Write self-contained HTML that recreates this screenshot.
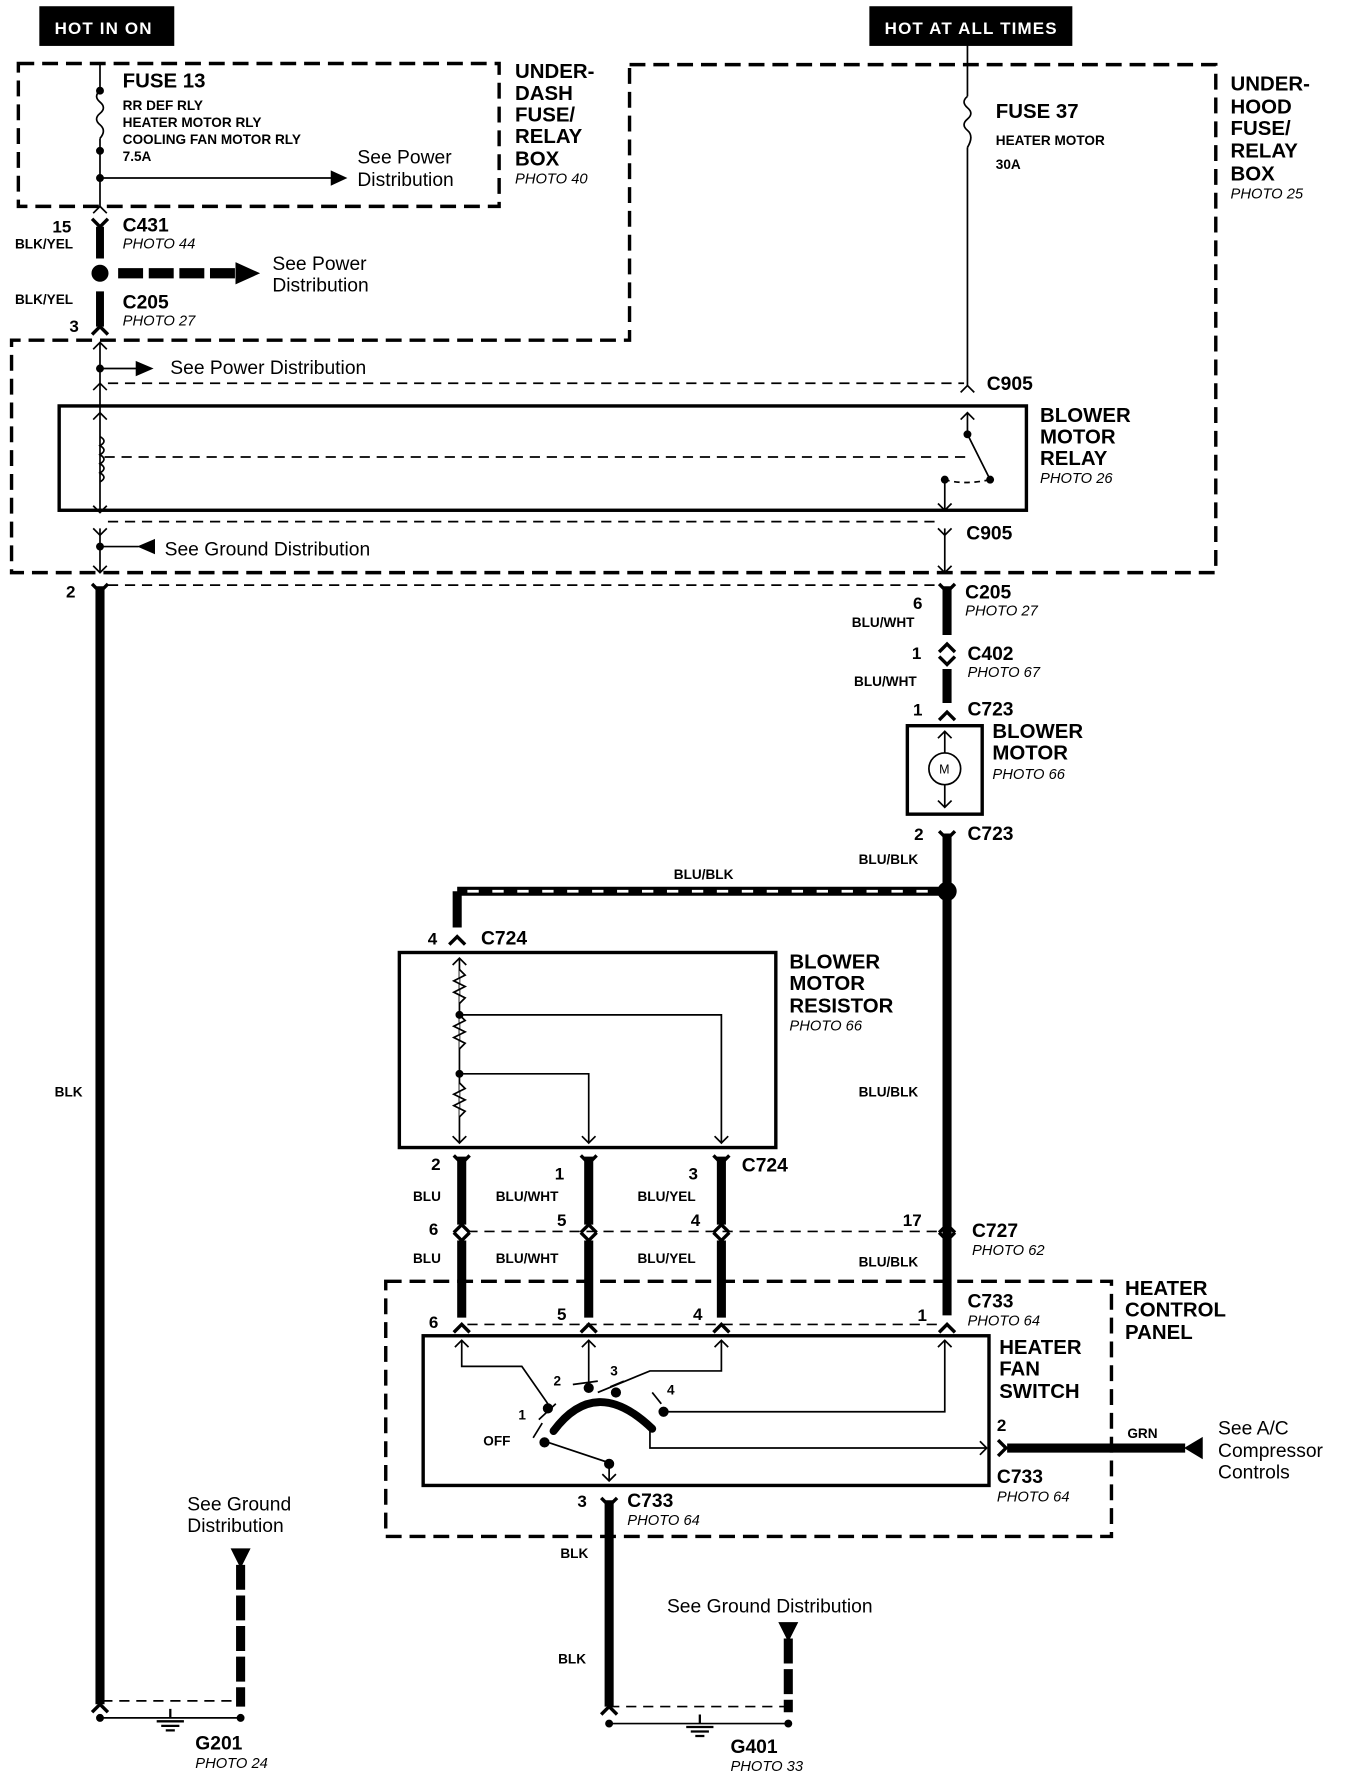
<!DOCTYPE html>
<html><head><meta charset="utf-8"><style>
html,body{margin:0;padding:0;background:#fff}
svg{display:block}
text{font-family:"Liberation Sans",Arial,sans-serif;fill:#000}
.b{font-weight:bold}
.i{font-style:italic;font-size:13px}
</style></head><body>
<svg width="1360" height="1778" viewBox="0 0 1199 1568" xmlns="http://www.w3.org/2000/svg">
<defs>
<path id="up" d="M-7,-7 L0,0 L7,-7" fill="none" stroke="#000" stroke-width="3"/>
<path id="dn" d="M-7,7 L0,0 L7,7" fill="none" stroke="#000" stroke-width="3"/>
<path id="upt" d="M-6,-6 L0,0 L6,-6" fill="none" stroke="#000" stroke-width="1.5"/>
<path id="dnt" d="M-6,6 L0,0 L6,6" fill="none" stroke="#000" stroke-width="1.5"/>
</defs>
<g fill="none" stroke="#000">
<rect x="35" y="6" width="118" height="34" fill="#000"/>
<rect x="767" y="6" width="178" height="34" fill="#000"/>
<rect x="16" y="56" width="424" height="126" stroke-width="3" stroke-dasharray="14,7"/>
<path d="M555,57 H1072 V505 H10 V300 H555 Z" stroke-width="3" stroke-dasharray="14,7"/>
<rect x="340" y="1130" width="640" height="225" stroke-width="3" stroke-dasharray="14,7"/>
<g stroke-width="1.5" stroke-dasharray="9,6">
<path d="M95,338 H850"/><path d="M95,460 H830"/><path d="M95,516 H830"/>
<path d="M412,1086 H828"/><path d="M412,1168 H828"/>
<path d="M90,1500 H210"/><path d="M537,1505 H695"/>
</g>
<path d="M88,56 V80 M88,122 V182" stroke-width="1.5"/>
<path d="M88,80 q-6,5 0,10 q6,5 0,10 q-6,5 0,10 q6,5 0,12" stroke-width="1.5"/>
<circle cx="88" cy="80" r="3" fill="#000"/><circle cx="88" cy="133" r="3" fill="#000"/><circle cx="88" cy="157" r="3" fill="#000"/>
<path d="M88,157 H292" stroke-width="1.5"/><path d="M292,151 L305,157 L292,163 Z" fill="#000"/>
<use href="#dnt" x="88" y="182"/>
<path d="M88,200 V228 M88,257 V288" stroke-width="7"/>
<use href="#up" x="88" y="200"/><use href="#dn" x="88" y="288"/>
<circle cx="88" cy="241" r="7" fill="#000"/>
<path d="M104,241 H210" stroke-width="9" stroke-dasharray="22,5"/>
<path d="M208,232 L228,241 L208,250 Z" fill="#000"/>
<path d="M88,302 V452" stroke-width="1.5"/>
<path d="M82,308 L88,302 L94,308" stroke-width="1.5"/>
<circle cx="88" cy="325" r="3" fill="#000"/>
<path d="M88,325 H120" stroke-width="1.5"/><path d="M120,319 L134,325 L120,331 Z" fill="#000"/>
<use href="#dnt" x="88" y="338"/>
<rect x="52" y="358" width="853" height="92" stroke-width="3"/>
<path d="M82,370 L88,364 L94,370 M82,446 L88,452 L94,446" stroke-width="1.5"/>
<path d="M88,385 q7,4 0,8 q7,4 0,8 q7,4 0,8 q7,4 0,8 q7,4 0,8" stroke-width="1.5"/>
<path d="M92,403 H855" stroke-width="1.5" stroke-dasharray="9,6"/>
<use href="#upt" x="88" y="472"/>
<path d="M88,466 V505" stroke-width="1.5"/>
<circle cx="88" cy="482" r="3" fill="#000"/>
<path d="M88,482 H122" stroke-width="1.5"/><path d="M136,476 L122,482 L136,488 Z" fill="#000"/>
<path d="M82,499 L88,505 L94,499" stroke-width="1.5"/>
<use href="#up" x="88" y="522"/>
<path d="M88,517 V1503" stroke-width="8"/>
<use href="#dn" x="88" y="1503"/>
<path d="M853,40 V85 M853,130 V340" stroke-width="1.5"/>
<path d="M853,85 q-6,5 0,10 q6,5 0,10 q-6,5 0,10 q6,5 0,15" stroke-width="1.5"/>
<use href="#dnt" x="853" y="340"/>
<path d="M853,364 V383 L873,423" stroke-width="1.5"/>
<path d="M847,370 L853,364 L859,370" stroke-width="1.5"/>
<circle cx="853" cy="383" r="3" fill="#000"/><circle cx="873" cy="423" r="3" fill="#000"/>
<path d="M873,423 Q850,428 833,423" stroke-width="1.5" stroke-dasharray="5,4"/>
<path d="M833,423 V450 M827,444 L833,450 L839,444" stroke-width="1.5"/>
<circle cx="833" cy="423" r="3" fill="#000"/>
<use href="#upt" x="833" y="472"/><path d="M833,466 V505" stroke-width="1.5"/>
<path d="M827,499 L833,505 L839,499" stroke-width="1.5"/>
<use href="#up" x="835" y="522"/>
<path d="M835,517 V560 M835,590 V620" stroke-width="8"/>
<use href="#dn" x="835" y="568"/><use href="#up" x="835" y="586"/>
<use href="#dn" x="835" y="628"/>
<rect x="800" y="640" width="66" height="78" stroke-width="3"/>
<circle cx="833" cy="678" r="14" stroke-width="1.5"/>
<path d="M833,645 V664 M833,692 V712 M827,651 L833,645 L839,651 M827,706 L833,712 L839,706" stroke-width="1.5"/>
<use href="#up" x="835" y="740"/>
<path d="M835,735 V1160" stroke-width="8"/>
<circle cx="835" cy="786" r="8" fill="#000"/>
<path d="M403,786 H828 M403,786 V818" stroke-width="8"/>
<path d="M412,786 H826" stroke="#fff" stroke-width="2.5" stroke-dasharray="10,12"/>
<use href="#dn" x="403" y="826"/>
<use href="#up" x="835" y="1094"/><use href="#dn" x="835" y="1080"/>
<rect x="352" y="840" width="332" height="172" stroke-width="3"/>
<path d="M405,845 V1008 M399,851 L405,845 L411,851" stroke-width="1.5"/>
<path d="M405,855 l5,5 l-10,5 l10,5 l-10,5 l10,5 l-5,5 M405,895 l5,5 l-10,5 l10,5 l-10,5 l10,5 l-5,5 M405,955 l5,5 l-10,5 l10,5 l-10,5 l10,5 l-5,5" stroke-width="1.5" fill="#fff"/>
<circle cx="405" cy="895" r="3" fill="#000"/><circle cx="405" cy="947" r="3" fill="#000"/>
<path d="M405,895 H636 V1008 M405,947 H519 V1008" stroke-width="1.5"/>
<path d="M399,1002 L405,1008 L411,1002 M513,1002 L519,1008 L525,1002 M630,1002 L636,1008 L642,1002" stroke-width="1.5"/>
<g stroke-width="8"><path d="M407,1020 V1080 M407,1094 V1162 M519,1020 V1080 M519,1094 V1162 M636,1020 V1080 M636,1094 V1162"/></g>
<use href="#up" x="407" y="1026"/><use href="#up" x="519" y="1026"/><use href="#up" x="636" y="1026"/>
<use href="#dn" x="407" y="1080"/><use href="#dn" x="519" y="1080"/><use href="#dn" x="636" y="1080"/>
<use href="#up" x="407" y="1094"/><use href="#up" x="519" y="1094"/><use href="#up" x="636" y="1094"/>
<use href="#dn" x="407" y="1168"/><use href="#dn" x="519" y="1168"/><use href="#dn" x="636" y="1168"/><use href="#dn" x="835" y="1168"/>
<rect x="373" y="1178" width="499" height="132" stroke-width="3"/>
<g stroke-width="1.5">
<path d="M407,1182 V1205 H460 L483,1238 M519,1182 V1222 M636,1182 V1209 H573 L527,1228 M833,1182 V1245 H585 M573,1260 V1277 H870 M483,1272 L537,1290 V1306"/>
<path d="M401,1188 L407,1182 L413,1188 M513,1188 L519,1182 L525,1188 M630,1188 L636,1182 L642,1188 M827,1188 L833,1182 L839,1188 M864,1271 L870,1277 L864,1283 M531,1300 L537,1306 L543,1300"/>
<path d="M475,1252 L490,1238 M505,1221 L527,1218 M538,1223 L550,1218 M575,1228 L583,1238 M470,1268 L478,1255"/>
</g>
<path d="M488,1262 Q525,1212 575,1260" stroke-width="7" stroke-linecap="round"/>
<circle cx="483" cy="1242" r="4" fill="#000"/><circle cx="519" cy="1224" r="4" fill="#000"/><circle cx="543" cy="1228" r="4" fill="#000"/><circle cx="585" cy="1245" r="4" fill="#000"/><circle cx="480" cy="1272" r="4" fill="#000"/><circle cx="537" cy="1291" r="4" fill="#000"/>
<path d="M888,1277 H1045" stroke-width="8"/>
<path d="M880,1270 L887,1277 L880,1284" stroke-width="3"/>
<path d="M1045,1277 L1060,1268 V1286 Z" fill="#000"/>
<use href="#up" x="537" y="1328"/>
<path d="M537,1323 V1505" stroke-width="8"/>
<use href="#dn" x="537" y="1505"/>
<path d="M88,1515 H212 M537,1520 H695" stroke-width="1.5"/>
<circle cx="88" cy="1515" r="3" fill="#000"/><circle cx="212" cy="1515" r="3" fill="#000"/>
<circle cx="537" cy="1520" r="3" fill="#000"/><circle cx="695" cy="1520" r="3" fill="#000"/>
<path d="M150,1507 V1515 M138,1518 H162 M142,1522 H158 M146,1526 H154" stroke-width="2"/>
<path d="M617,1512 V1520 M605,1523 H629 M609,1527 H625 M613,1531 H621" stroke-width="2"/>
<path d="M212,1380 V1505" stroke-width="8" stroke-dasharray="22,5"/>
<path d="M204,1366 H220 L212,1382 Z" fill="#000"/>
<path d="M695,1445 V1510" stroke-width="8" stroke-dasharray="22,5"/>
<path d="M687,1431 H703 L695,1447 Z" fill="#000"/>
</g>
<text x="48" y="30" class="b" font-size="15" style="fill:#fff;letter-spacing:1px">HOT IN ON</text>
<text x="780" y="30" class="b" font-size="15" style="fill:#fff;letter-spacing:1px">HOT AT ALL TIMES</text>
<text x="828" y="682" font-size="11">M</text>
<g class="b" font-size="18"><text x="108" y="77" class="b">FUSE 13</text><text x="878" y="104" class="b">FUSE 37</text></g>
<g font-size="12" class="b"><text x="108" y="97" class="b">RR DEF RLY</text><text x="108" y="112" class="b">HEATER MOTOR RLY</text><text x="108" y="127" class="b">COOLING FAN MOTOR RLY</text><text x="108" y="142" class="b">7.5A</text>
<text x="878" y="128" class="b">HEATER MOTOR</text><text x="878" y="149" class="b">30A</text></g>
<g font-size="17"><text x="315" y="144">See Power</text><text x="315" y="164">Distribution</text>
<text x="240" y="238">See Power</text><text x="240" y="257">Distribution</text>
<text x="150" y="330">See Power Distribution</text><text x="145" y="490">See Ground Distribution</text>
<text x="165" y="1332">See Ground</text><text x="165" y="1351">Distribution</text>
<text x="588" y="1422">See Ground Distribution</text>
<text x="1074" y="1265">See A/C</text><text x="1074" y="1285">Compressor</text><text x="1074" y="1304">Controls</text></g>
<g class="b" font-size="18">
<text x="454" y="69" class="b">UNDER-</text><text x="454" y="88" class="b">DASH</text><text x="454" y="107" class="b">FUSE/</text><text x="454" y="126" class="b">RELAY</text><text x="454" y="146" class="b">BOX</text>
<text x="1085" y="80" class="b">UNDER-</text><text x="1085" y="100" class="b">HOOD</text><text x="1085" y="119" class="b">FUSE/</text><text x="1085" y="139" class="b">RELAY</text><text x="1085" y="159" class="b">BOX</text>
<text x="917" y="372" class="b">BLOWER</text><text x="917" y="391" class="b">MOTOR</text><text x="917" y="410" class="b">RELAY</text>
<text x="875" y="651" class="b">BLOWER</text><text x="875" y="670" class="b">MOTOR</text>
<text x="696" y="854" class="b">BLOWER</text><text x="696" y="873" class="b">MOTOR</text><text x="696" y="893" class="b">RESISTOR</text>
<text x="881" y="1194" class="b">HEATER</text><text x="881" y="1213" class="b">FAN</text><text x="881" y="1233" class="b">SWITCH</text>
<text x="992" y="1142" class="b">HEATER</text><text x="992" y="1161" class="b">CONTROL</text><text x="992" y="1181" class="b">PANEL</text>
</g>
<g class="i"><text x="454" y="162">PHOTO 40</text><text x="1085" y="175">PHOTO 25</text><text x="108" y="219">PHOTO 44</text><text x="108" y="287">PHOTO 27</text>
<text x="917" y="426">PHOTO 26</text><text x="851" y="543">PHOTO 27</text><text x="853" y="597">PHOTO 67</text><text x="875" y="687">PHOTO 66</text>
<text x="696" y="909">PHOTO 66</text><text x="857" y="1107">PHOTO 62</text><text x="853" y="1169">PHOTO 64</text><text x="879" y="1324">PHOTO 64</text>
<text x="553" y="1345">PHOTO 64</text><text x="172" y="1559">PHOTO 24</text><text x="644" y="1562">PHOTO 33</text></g>
<g class="b" font-size="17">
<text x="108" y="204" class="b">C431</text><text x="108" y="272" class="b">C205</text><text x="870" y="344" class="b">C905</text><text x="852" y="476" class="b">C905</text>
<text x="851" y="528" class="b">C205</text><text x="853" y="582" class="b">C402</text><text x="853" y="631" class="b">C723</text><text x="853" y="741" class="b">C723</text>
<text x="424" y="833" class="b">C724</text><text x="654" y="1033" class="b">C724</text><text x="857" y="1091" class="b">C727</text><text x="853" y="1153" class="b">C733</text>
<text x="879" y="1308" class="b">C733</text><text x="553" y="1329" class="b">C733</text><text x="172" y="1543" class="b">G201</text><text x="644" y="1546" class="b">G401</text>
</g>
<g class="b" font-size="15">
<text x="46" y="205" class="b">15</text><text x="61" y="293" class="b">3</text><text x="58" y="527" class="b">2</text>
<text x="805" y="537" class="b">6</text><text x="804" y="581" class="b">1</text><text x="805" y="631" class="b">1</text><text x="806" y="741" class="b">2</text>
<text x="377" y="833" class="b">4</text><text x="380" y="1032" class="b">2</text><text x="489" y="1040" class="b">1</text><text x="607" y="1040" class="b">3</text>
<text x="378" y="1089" class="b">6</text><text x="491" y="1081" class="b">5</text><text x="609" y="1081" class="b">4</text><text x="796" y="1081" class="b">17</text>
<text x="378" y="1171" class="b">6</text><text x="491" y="1164" class="b">5</text><text x="611" y="1164" class="b">4</text><text x="809" y="1165" class="b">1</text>
<text x="879" y="1262" class="b">2</text><text x="509" y="1329" class="b">3</text>
</g>
<g class="b" font-size="12">
<text x="13" y="219" class="b">BLK/YEL</text><text x="13" y="268" class="b">BLK/YEL</text>
<text x="751" y="553" class="b">BLU/WHT</text><text x="753" y="605" class="b">BLU/WHT</text><text x="757" y="762" class="b">BLU/BLK</text><text x="594" y="775" class="b">BLU/BLK</text>
<text x="757" y="967" class="b">BLU/BLK</text><text x="48" y="967" class="b">BLK</text>
<text x="364" y="1059" class="b">BLU</text><text x="437" y="1059" class="b">BLU/WHT</text><text x="562" y="1059" class="b">BLU/YEL</text>
<text x="364" y="1114" class="b">BLU</text><text x="437" y="1114" class="b">BLU/WHT</text><text x="562" y="1114" class="b">BLU/YEL</text><text x="757" y="1117" class="b">BLU/BLK</text>
<text x="994" y="1268" class="b">GRN</text><text x="494" y="1374" class="b">BLK</text><text x="492" y="1467" class="b">BLK</text>
<text x="488" y="1222" class="b">2</text><text x="538" y="1213" class="b">3</text><text x="588" y="1230" class="b">4</text><text x="457" y="1252" class="b">1</text><text x="426" y="1275" class="b">OFF</text>
</g>
</svg>
</body></html>
